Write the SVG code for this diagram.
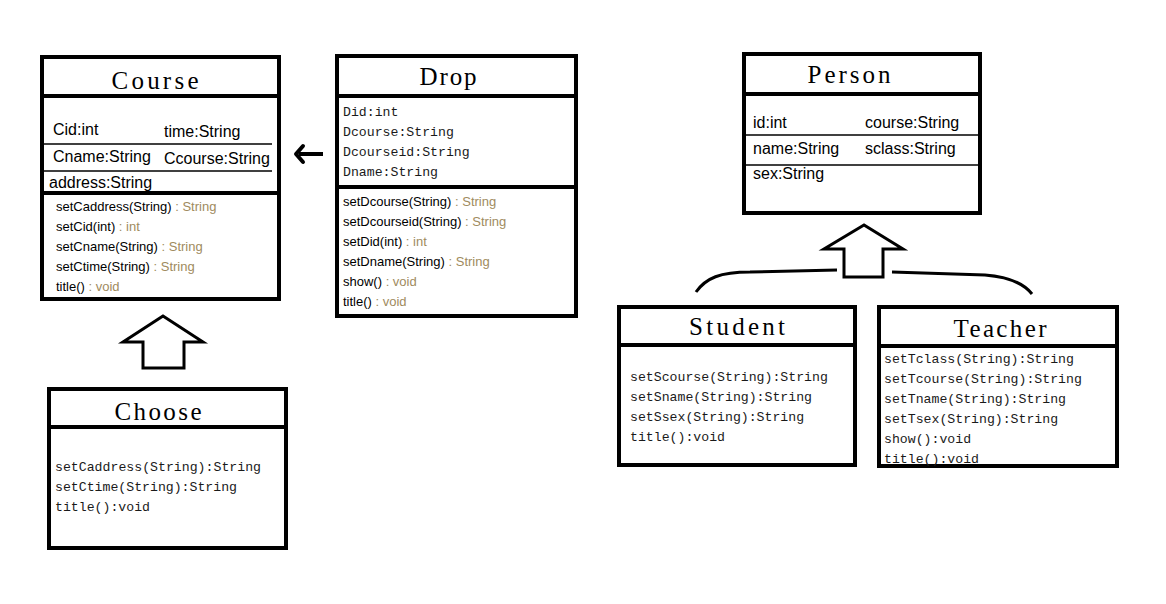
<svg xmlns="http://www.w3.org/2000/svg" width="1166" height="604" viewBox="0 0 1166 604">
<style>
.box{fill:#fff;stroke:#000;stroke-width:4}
.div{stroke:#000;stroke-width:4}
.thin{stroke:#000;stroke-width:1.3}
.title{font-family:"Liberation Serif",serif;font-size:25px;fill:#000;text-anchor:middle}
.attr{font-family:"Liberation Sans",Arial,sans-serif;font-size:16px;fill:#000}
.meth{font-family:"Liberation Sans",Arial,sans-serif;font-size:13px;fill:#000}
.ty{fill:#a08b5e}
.mono{font-family:"Liberation Mono",monospace;font-size:13.2px;fill:#1a1a1a}
.conn{fill:none;stroke:#000;stroke-width:3}
.gen{fill:#fff;stroke:#000;stroke-width:3;stroke-linejoin:miter}
</style>
<rect width="1166" height="604" fill="#fff"/>

<g id="course">
<rect class="box" x="42" y="57" width="237" height="242"/>
<line class="div" x1="42" y1="96" x2="279" y2="96"/>
<line class="div" x1="42" y1="193" x2="279" y2="193"/>
<line class="thin" x1="42" y1="144" x2="272" y2="144"/>
<line class="thin" x1="42" y1="171" x2="272" y2="171"/>
<text class="title" x="155" y="89" textLength="87">Course</text>
<text class="attr" x="53" y="135">Cid:int</text>
<text class="attr" x="164" y="137">time:String</text>
<text class="attr" x="53" y="162">Cname:String</text>
<text class="attr" x="164" y="164">Ccourse:String</text>
<text class="attr" x="49" y="188">address:String</text>
<text class="meth" x="56" y="211">setCaddress(String)<tspan class="ty"> : String</tspan></text>
<text class="meth" x="56" y="231">setCid(int)<tspan class="ty"> : int</tspan></text>
<text class="meth" x="56" y="251">setCname(String)<tspan class="ty"> : String</tspan></text>
<text class="meth" x="56" y="271">setCtime(String)<tspan class="ty"> : String</tspan></text>
<text class="meth" x="56" y="291">title()<tspan class="ty"> : void</tspan></text>
</g>

<g id="drop">
<rect class="box" x="337" y="56" width="239" height="260"/>
<line class="div" x1="337" y1="96" x2="576" y2="96"/>
<line class="div" x1="337" y1="187" x2="576" y2="187"/>
<text class="title" x="448" y="85" textLength="57">Drop</text>
<text class="mono" x="343" y="116">Did:int</text>
<text class="mono" x="343" y="136">Dcourse:String</text>
<text class="mono" x="343" y="156">Dcourseid:String</text>
<text class="mono" x="343" y="176">Dname:String</text>
<text class="meth" x="343" y="206">setDcourse(String)<tspan class="ty"> : String</tspan></text>
<text class="meth" x="343" y="226">setDcourseid(String)<tspan class="ty"> : String</tspan></text>
<text class="meth" x="343" y="246">setDid(int)<tspan class="ty"> : int</tspan></text>
<text class="meth" x="343" y="266">setDname(String)<tspan class="ty"> : String</tspan></text>
<text class="meth" x="343" y="286">show()<tspan class="ty"> : void</tspan></text>
<text class="meth" x="343" y="306">title()<tspan class="ty"> : void</tspan></text>
</g>

<g id="choose">
<rect class="box" x="49" y="389" width="237" height="159"/>
<line class="div" x1="49" y1="427" x2="286" y2="427"/>
<text class="title" x="158" y="420" textLength="87">Choose</text>
<text class="mono" x="55" y="471" textLength="206">setCaddress(String):String</text>
<text class="mono" x="55" y="491">setCtime(String):String</text>
<text class="mono" x="55" y="511">title():void</text>
</g>

<g id="person">
<rect class="box" x="744" y="54" width="236" height="159"/>
<line class="div" x1="744" y1="94" x2="980" y2="94"/>
<line class="thin" x1="744" y1="135" x2="980" y2="135"/>
<line class="thin" x1="744" y1="165" x2="980" y2="165"/>
<text class="title" x="849" y="83" textLength="83">Person</text>
<text class="attr" x="753" y="128">id:int</text>
<text class="attr" x="865" y="128">course:String</text>
<text class="attr" x="753" y="154">name:String</text>
<text class="attr" x="865" y="154">sclass:String</text>
<text class="attr" x="753" y="179">sex:String</text>
</g>

<g id="student">
<rect class="box" x="619" y="307" width="236" height="158"/>
<line class="div" x1="619" y1="345" x2="855" y2="345"/>
<text class="title" x="737" y="335" textLength="96">Student</text>
<text class="mono" x="630" y="381">setScourse(String):String</text>
<text class="mono" x="630" y="401">setSname(String):String</text>
<text class="mono" x="630" y="421">setSsex(String):String</text>
<text class="mono" x="630" y="441">title():void</text>
</g>

<g id="teacher">
<rect class="box" x="879" y="307" width="238" height="159"/>
<line class="div" x1="879" y1="346" x2="1117" y2="346"/>
<text class="title" x="1000" y="337" textLength="93">Teacher</text>
<text class="mono" x="884" y="363">setTclass(String):String</text>
<text class="mono" x="884" y="383">setTcourse(String):String</text>
<text class="mono" x="884" y="403">setTname(String):String</text>
<text class="mono" x="884" y="423">setTsex(String):String</text>
<text class="mono" x="884" y="443">show():void</text>
<text class="mono" x="884" y="463">title():void</text>
</g>

<g id="connectors">
<path d="M323,154 H299" fill="none" stroke="#000" stroke-width="4"/>
<path d="M303,146 L296,154 L303,162" fill="none" stroke="#000" stroke-width="4" stroke-linecap="round" stroke-linejoin="round"/>
<polygon class="gen" points="163,316 123,342 143,342 143,368 184,368 184,342 203,342"/>
<polygon class="gen" points="864,225 824,249 844,249 844,277 883,277 883,249 903,249"/>
<path class="conn" d="M696,292 C706,278 720,272 750,272 L837,270"/>
<path class="conn" d="M892,272 L985,275 C1010,277 1025,285 1032,294"/>
</g>
</svg>
